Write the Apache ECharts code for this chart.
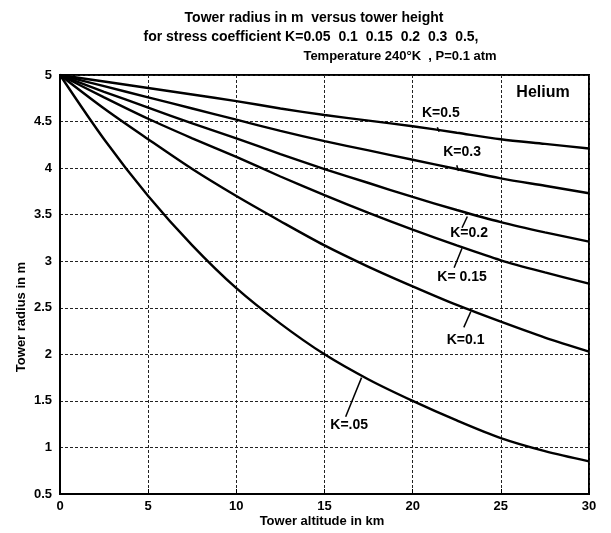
<!DOCTYPE html>
<html>
<head>
<meta charset="utf-8">
<script src="https://cdn.jsdelivr.net/npm/echarts@6/dist/echarts.min.js"></script>
<style>html,body{margin:0;padding:0;background:#fff}#c{width:611px;height:533px}</style>
</head>
<body>
<div id="c"></div>
<script>
// Tower altitude (km)
const altitudeKm = [0, 2.5, 5, 7.5, 10, 12.5, 15, 17.5, 20, 22.5, 25, 27.5, 30];
// Tower radius (m) for each stress coefficient K
const k050 = [5, 4.93, 4.86, 4.79, 4.72, 4.64, 4.57, 4.51, 4.45, 4.38, 4.31, 4.26, 4.21];
const k030 = [5, 4.88, 4.76, 4.64, 4.52, 4.40, 4.29, 4.19, 4.09, 3.99, 3.89, 3.81, 3.73];
const k020 = [5, 4.82, 4.65, 4.48, 4.32, 4.15, 3.99, 3.84, 3.69, 3.55, 3.42, 3.31, 3.21];
const k015 = [5, 4.76, 4.53, 4.32, 4.12, 3.91, 3.71, 3.52, 3.34, 3.17, 3.01, 2.88, 2.76];
const k010 = [5, 4.64, 4.31, 3.99, 3.70, 3.43, 3.17, 2.94, 2.73, 2.53, 2.35, 2.18, 2.03];
const k005 = [5, 4.31, 3.70, 3.17, 2.71, 2.33, 2.00, 1.73, 1.50, 1.29, 1.10, 0.96, 0.85];
const seriesNames = ['K=0.5', 'K=0.3', 'K=0.2', 'K=0.15', 'K=0.1', 'K=.05'];
const seriesValues = [k050, k030, k020, k015, k010, k005];
// Curve labels: text, label anchor [km, m], leader line [km, m] -> [km, m]
const curveLabels = ['K=0.5', 'K=0.3', 'K=0.2', 'K= 0.15', 'K=0.1', 'K=.05'];
const labelAt = [[21.6, 4.59], [22.8, 4.17], [23.2, 3.30], [22.8, 2.83], [23.0, 2.15], [16.4, 1.24]];
const leaderFrom = [[21.4, 4.44], [22.5, 4.03], [22.8, 3.36], [22.35, 2.93], [22.9, 2.29], [16.2, 1.33]];
const leaderTo = [[21.5, 4.39], [22.6, 3.97], [23.1, 3.48], [22.8, 3.14], [23.3, 2.46], [17.1, 1.75]];
const titleLines = ['Tower radius in m  versus tower height',
  'for stress coefficient K=0.05  0.1  0.15  0.2  0.3  0.5,',
  'Temperature 240\u00b0K  , P=0.1 atm'];

const FONT = '"Liberation Sans", Arial, Helvetica, sans-serif';
const chart = echarts.init(document.getElementById('c'), null, {renderer: 'canvas'});

const series = seriesValues.map((vals, i) => ({
  name: seriesNames[i],
  type: 'line',
  smooth: 0.3,
  symbol: 'none',
  lineStyle: {color: '#000', width: 2.4},
  data: altitudeKm.map((x, j) => [x, vals[j]])
}));

const option = {
  animation: false,
  backgroundColor: '#fff',
  grid: {left: 60, right: 22, top: 75, bottom: 39, show: true, borderColor: '#000', borderWidth: 2},
  xAxis: {
    type: 'value', min: 0, max: 30, interval: 5,
    axisLine: {lineStyle: {color: '#000', width: 2}},
    axisTick: {inside: true, length: 5, lineStyle: {color: '#000'}},
    axisLabel: {color: '#000', fontFamily: FONT, fontWeight: 'bold', fontSize: 13, margin: 6},
    splitLine: {lineStyle: {color: '#222', type: [3, 2], width: 1}}
  },
  yAxis: {
    type: 'value', min: 0.5, max: 5, interval: 0.5,
    axisLine: {show: true, lineStyle: {color: '#000', width: 2}},
    axisTick: {show: false},
    axisLabel: {color: '#000', fontFamily: FONT, fontWeight: 'bold', fontSize: 13, margin: 8},
    splitLine: {lineStyle: {color: '#222', type: [3, 2], width: 1}}
  },
  series: series
};
chart.setOption(option);

const g = [];
const tx = [314, 311, 400], ty = [18, 37, 56], tf = [14, 14, 13];
titleLines.forEach((t, i) => g.push({type: 'text', x: tx[i], y: ty[i],
  style: {text: t, font: 'bold ' + tf[i] + 'px ' + FONT, fill: '#000', textAlign: 'center', textVerticalAlign: 'middle'}}));
g.push({type: 'text', x: 322, y: 521, style: {text: 'Tower altitude in km', font: 'bold 13px ' + FONT, fill: '#000', textAlign: 'center', textVerticalAlign: 'middle'}});
g.push({type: 'text', x: 21, y: 317, rotation: Math.PI / 2,
  style: {text: 'Tower radius in m', font: 'bold 13px ' + FONT, fill: '#000', textAlign: 'center', textVerticalAlign: 'middle'}});
g.push({type: 'text', x: 543, y: 93, style: {text: 'Helium', font: 'bold 16px ' + FONT, fill: '#000', textAlign: 'center', textVerticalAlign: 'middle'}});
curveLabels.forEach((t, i) => {
  const p = chart.convertToPixel({gridIndex: 0}, labelAt[i]);
  const a = chart.convertToPixel({gridIndex: 0}, leaderFrom[i]);
  const b = chart.convertToPixel({gridIndex: 0}, leaderTo[i]);
  g.push({type: 'text', x: p[0], y: p[1], style: {text: t, font: 'bold 14px ' + FONT, fill: '#000', textAlign: 'center', textVerticalAlign: 'middle'}});
  g.push({type: 'line', shape: {x1: a[0], y1: a[1], x2: b[0], y2: b[1]}, style: {stroke: '#000', lineWidth: 1.5}});
});
chart.setOption({graphic: g});
</script>
</body>
</html>
